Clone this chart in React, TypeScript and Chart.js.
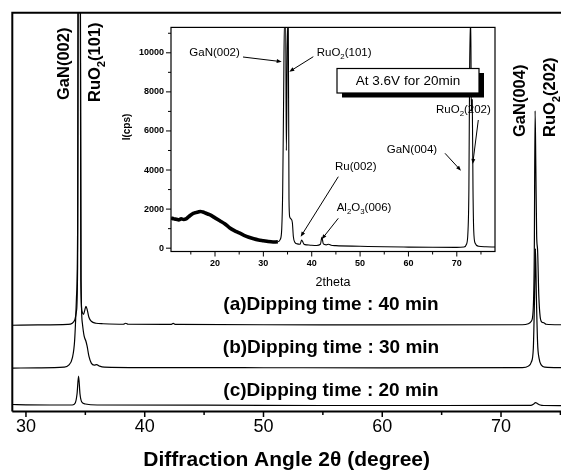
import React, { useEffect, useRef } from "react";
import { Chart, registerables } from "chart.js";

Chart.register(...registerables);

const FONT = "'Liberation Sans', Arial, Helvetica, sans-serif";
Chart.defaults.font.family = FONT;
Chart.defaults.color = "#000";

// ---------------- main panel ----------------
const mainXMin = 28.85;
const mainXMax = 75.05;
const mainMajorTicks = [30, 40, 50, 60, 70];
const mainMinorTicks = [35, 45, 55, 65, 75];
const mainXTitle = "Diffraction Angle 2θ (degree)";

const seriesNames = [
  "(a)Dipping time : 40 min",
  "(b)Dipping time : 30 min",
  "(c)Dipping time : 20 min",
];
// vertical stacking offsets (arbitrary intensity units)
const seriesOffsets = [86.5, 43.5, 5.5];

// (a) 40 min
const angles40 = [28.85, 31, 33.5, 33.9, 34.1, 34.25, 34.35, 34.42, 34.55, 34.62, 34.72, 34.85, 34.95, 35.05, 35.15, 35.3, 35.5, 35.9, 36.5, 38.2, 38.4, 38.6, 42.2, 42.4, 42.6, 50, 60, 71.8, 72.3, 72.55, 72.7, 72.8, 72.87, 72.93, 73.0, 73.08, 73.18, 73.3, 73.45, 73.6, 73.8, 75.05];
const counts40 = [0, 0.3, 0.8, 2, 5, 14, 60, 500, 500, 45, 14, 11, 15, 19, 16, 8, 4, 2, 1.5, 1, 2, 1, 0.8, 1.8, 0.8, 0.5, 0.3, 0.5, 1.5, 4, 14, 70, 215, 160, 90, 75, 30, 8, 3, 2.5, 1, 0.5];

// (b) 30 min
const angles30 = [28.85, 31, 33.2, 33.6, 33.9, 34.1, 34.25, 34.35, 34.42, 34.56, 34.64, 34.75, 34.9, 35.05, 35.15, 35.3, 35.5, 35.75, 35.95, 36.2, 36.6, 40, 50, 60, 71.8, 72.3, 72.55, 72.72, 72.82, 72.9, 72.98, 73.08, 73.2, 73.4, 73.7, 75.05];
const counts30 = [0, 0.3, 1, 3, 10, 28, 70, 140, 500, 500, 90, 45, 32, 27, 22, 12, 5, 3, 3.5, 2, 1, 0.5, 0.4, 0.3, 0.5, 2, 6, 20, 70, 120, 70, 25, 10, 3, 1, 0.5];

// (c) 20 min
const angles20 = [28.85, 30, 32, 33.9, 34.15, 34.3, 34.43, 34.55, 34.7, 35, 36, 45, 55, 65, 72.5, 72.75, 72.9, 73.05, 73.3, 73.6, 75.05];
const counts20 = [1.5, 1.2, 1, 1, 3, 12, 30, 12, 4, 2, 1, 0.8, 0.5, 0.5, 0.6, 2, 3.5, 2.5, 1, 0.5, 0.4];

const peakLabels = ["GaN(002)", "RuO_2(101)", "GaN(004)", "RuO_2(202)"];

// ---------------- inset ----------------
const insetXMin = 10.9;
const insetXMax = 77.9;
const insetYMin = -170;
const insetYMax = 11300;
const insetXTicks = [20, 30, 40, 50, 60, 70];
const insetXMinor = [15, 25, 35, 45, 55, 65, 75];
const insetYTicks = [0, 2000, 4000, 6000, 8000, 10000];
const insetYMinor = [1000, 3000, 5000, 7000, 9000, 11000];
const insetXTitle = "2theta";
const insetYTitle = "I(cps)";
const insetBoxText = "At 3.6V for 20min";
const insetNotes = ["GaN(002)", "RuO_2(101)", "Ru(002)", "Al_2O_3(006)", "GaN(004)", "RuO_2(202)"];

const insetAngles = [10.9, 11.5, 12, 12.5, 13, 13.5, 14, 14.5, 15, 15.5, 16, 16.5, 17, 17.5, 18, 18.5, 19, 20, 21, 22, 23, 24, 25, 26, 27, 28, 29, 30, 31, 32, 33, 33.5, 33.8, 34.0, 34.2, 34.35, 34.5, 34.62, 34.75, 34.88, 35.0, 35.15, 35.3, 35.45, 35.7, 36.0, 36.2, 36.5, 37, 37.6, 37.9, 38.1, 38.4, 39, 40, 41, 41.8, 42.1, 42.4, 43, 43.5, 44, 45, 50, 55, 60, 65, 70, 71.5, 72.0, 72.3, 72.5, 72.65, 72.8, 72.9, 73.0, 73.1, 73.2, 73.35, 73.5, 73.8, 74.5, 76, 77.9];
const insetCounts = [1550, 1500, 1480, 1450, 1500, 1470, 1500, 1600, 1700, 1780, 1820, 1850, 1880, 1850, 1800, 1750, 1700, 1550, 1400, 1250, 1050, 900, 780, 660, 560, 480, 420, 380, 340, 320, 330, 450, 1000, 3000, 8000, 11500, 11500, 11500, 5000, 8000, 11500, 11500, 2500, 1600, 1500, 1300, 600, 300, 220, 200, 420, 350, 200, 170, 150, 140, 200, 560, 220, 170, 200, 150, 130, 100, 70, 55, 45, 40, 60, 200, 800, 3000, 9000, 11500, 11500, 7000, 7600, 7600, 3000, 900, 250, 100, 70, 60];

// ---------------- helpers ----------------
const INSET_LEFT = 110;
const INSET_TOP = 15;

function toPoints(xs: number[], ys: number[], offset = 0) {
  return xs.map((x, i) => ({ x, y: ys[i] + offset }));
}

type Part = { t: string; sub: boolean };
function parseRich(s: string): Part[] {
  const parts: Part[] = [];
  let buf = "";
  for (let i = 0; i < s.length; i++) {
    if (s[i] === "_" && i + 1 < s.length) {
      if (buf) parts.push({ t: buf, sub: false });
      buf = "";
      parts.push({ t: s[i + 1], sub: true });
      i++;
    } else buf += s[i];
  }
  if (buf) parts.push({ t: buf, sub: false });
  return parts;
}

function drawRich(
  ctx: CanvasRenderingContext2D,
  s: string,
  x: number,
  y: number,
  size: number,
  bold: boolean,
  align: "left" | "center",
  rotate: boolean,
  baseline: CanvasTextBaseline = "alphabetic"
) {
  const parts = parseRich(s);
  const subSize = size * 0.68;
  const setFont = (p: Part) => {
    ctx.font = `${bold ? "bold " : ""}${p.sub ? subSize : size}px ${FONT}`;
  };
  let total = 0;
  for (const p of parts) {
    setFont(p);
    total += ctx.measureText(p.t).width;
  }
  ctx.save();
  ctx.translate(x, y);
  if (rotate) ctx.rotate(-Math.PI / 2);
  ctx.textAlign = "left";
  ctx.textBaseline = baseline;
  ctx.fillStyle = "#000";
  let cx = align === "center" ? -total / 2 : 0;
  for (const p of parts) {
    setFont(p);
    ctx.fillText(p.t, cx, p.sub ? size * 0.3 : 0);
    cx += ctx.measureText(p.t).width;
  }
  ctx.restore();
}

function arrow(ctx: CanvasRenderingContext2D, x1: number, y1: number, x2: number, y2: number) {
  const ang = Math.atan2(y2 - y1, x2 - x1);
  const hl = 5;
  const hw = 2;
  ctx.save();
  ctx.strokeStyle = "#000";
  ctx.fillStyle = "#000";
  ctx.lineWidth = 1;
  ctx.beginPath();
  ctx.moveTo(x1, y1);
  ctx.lineTo(x2 - Math.cos(ang) * hl * 0.8, y2 - Math.sin(ang) * hl * 0.8);
  ctx.stroke();
  ctx.beginPath();
  ctx.moveTo(x2, y2);
  ctx.lineTo(x2 - Math.cos(ang) * hl - Math.sin(ang) * hw, y2 - Math.sin(ang) * hl + Math.cos(ang) * hw);
  ctx.lineTo(x2 - Math.cos(ang) * hl + Math.sin(ang) * hw, y2 - Math.sin(ang) * hl - Math.cos(ang) * hw);
  ctx.closePath();
  ctx.fill();
  ctx.restore();
}

const mainDecor = {
  id: "mainDecor",
  afterDraw(chart: any) {
    const { ctx, chartArea } = chart;
    const { left, top, right, bottom } = chartArea;
    const xs = chart.scales.x;
    ctx.save();
    ctx.strokeStyle = "#000";
    ctx.lineWidth = 2;
    ctx.beginPath();
    ctx.moveTo(left, bottom);
    ctx.lineTo(left, top);
    ctx.lineTo(right, top);
    ctx.moveTo(left, bottom);
    ctx.lineTo(right, bottom);
    ctx.stroke();
    ctx.lineWidth = 1.5;
    ctx.beginPath();
    for (const v of mainMajorTicks) {
      const px = xs.getPixelForValue(v);
      ctx.moveTo(px, bottom);
      ctx.lineTo(px, bottom + 5.5);
    }
    for (const v of mainMinorTicks) {
      if (v > mainXMax) continue;
      const px = xs.getPixelForValue(v);
      ctx.moveTo(px, bottom);
      ctx.lineTo(px, bottom + 3.5);
    }
    ctx.stroke();
    ctx.restore();

    // rotated peak labels
    drawRich(ctx, peakLabels[0], 68.5, 100, 16.5, true, "left", true);
    drawRich(ctx, peakLabels[1], 100, 102, 16.5, true, "left", true);
    drawRich(ctx, peakLabels[2], 525, 137, 16.5, true, "left", true);
    drawRich(ctx, peakLabels[3], 555, 137, 16.5, true, "left", true);

    // series names
    const ys = [305, 348, 391];
    seriesNames.forEach((n, i) => drawRich(ctx, n, 331, ys[i], 19, true, "center", false, "middle"));
  },
};

const insetDecor = {
  id: "insetDecor",
  afterDraw(chart: any) {
    const { ctx, chartArea } = chart;
    const { left, top, right, bottom } = chartArea;
    const xs = chart.scales.x;
    const ys = chart.scales.y;
    const P = (x: number, y: number): [number, number] => [x - INSET_LEFT, y - INSET_TOP];
    ctx.save();
    ctx.strokeStyle = "#000";
    ctx.lineWidth = 1.2;
    ctx.strokeRect(left, top, right - left, bottom - top);
    ctx.lineWidth = 1;
    ctx.beginPath();
    for (const v of insetXTicks) {
      const px = xs.getPixelForValue(v);
      ctx.moveTo(px, bottom);
      ctx.lineTo(px, bottom + 5);
    }
    for (const v of insetXMinor) {
      if (v > insetXMax) continue;
      const px = xs.getPixelForValue(v);
      ctx.moveTo(px, bottom);
      ctx.lineTo(px, bottom + 3);
    }
    for (const v of insetYTicks) {
      const py = ys.getPixelForValue(v);
      ctx.moveTo(left, py);
      ctx.lineTo(left - 5, py);
    }
    for (const v of insetYMinor) {
      if (v > insetYMax) continue;
      const py = ys.getPixelForValue(v);
      ctx.moveTo(left, py);
      ctx.lineTo(left - 3, py);
    }
    ctx.stroke();

    // y title
    const [tx, ty] = P(127, 127);
    drawRich(ctx, insetYTitle, tx, ty, 10, true, "center", true, "middle");

    // box with shadow
    const [bx, by] = P(337, 68.5);
    ctx.fillStyle = "#000";
    ctx.fillRect(bx + 5, by + 4.5, 142, 24.5);
    ctx.fillStyle = "#fff";
    ctx.fillRect(bx, by, 142, 24.5);
    ctx.strokeStyle = "#000";
    ctx.lineWidth = 1.2;
    ctx.strokeRect(bx, by, 142, 24.5);
    drawRich(ctx, insetBoxText, bx + 71, by + 12.5, 13.5, false, "center", false, "middle");

    // notes + arrows
    const notePos: [number, number][] = [
      [189.3, 53.3],
      [316.7, 53.3],
      [335, 166.7],
      [336.7, 208.3],
      [386.7, 150],
      [436, 110],
    ];
    const arrows: [number, number, number, number][] = [
      [243, 57, 281.7, 61.7],
      [313.3, 56.7, 289.3, 71.7],
      [338.3, 176.7, 300.7, 236.7],
      [338.3, 218.3, 321.7, 239.3],
      [445, 153.3, 461, 170.7],
      [478.3, 120, 472.7, 164],
    ];
    insetNotes.forEach((n, i) => {
      const [nx, ny] = P(notePos[i][0], notePos[i][1]);
      drawRich(ctx, n, nx, ny, 11.5, false, "left", false, "middle");
      const a = arrows[i];
      const [x1, y1] = P(a[0], a[1]);
      const [x2, y2] = P(a[2], a[3]);
      arrow(ctx, x1, y1, x2, y2);
    });
    ctx.restore();
  },
};

export default function App() {
  const mainRef = useRef<HTMLCanvasElement>(null);
  const insetRef = useRef<HTMLCanvasElement>(null);

  useEffect(() => {
    const lineDs = (data: { x: number; y: number }[]) => ({
      data,
      borderColor: "#000",
      borderWidth: 1.2,
      pointRadius: 0,
      fill: false,
      cubicInterpolationMode: "monotone" as const,
    });

    const main = new Chart(mainRef.current!, {
      type: "line",
      data: {
        datasets: [
          lineDs(toPoints(angles40, counts40, seriesOffsets[0])),
          lineDs(toPoints(angles30, counts30, seriesOffsets[1])),
          lineDs(toPoints(angles20, counts20, seriesOffsets[2])),
        ],
      },
      options: {
        responsive: false,
        animation: false,
        events: [],
        layout: { padding: { left: 12.3, top: 12.7, right: 0, bottom: 0 } },
        plugins: { legend: { display: false }, tooltip: { enabled: false } },
        scales: {
          x: {
            type: "linear",
            min: mainXMin,
            max: mainXMax,
            afterBuildTicks: (s: any) => {
              s.ticks = mainMajorTicks.map((v) => ({ value: v }));
            },
            afterFit: (s: any) => {
              s.height = 61.5;
            },
            grid: { display: false, drawTicks: false },
            border: { display: false },
            ticks: {
              color: "#000",
              font: { size: 18, family: FONT },
              padding: 5,
              maxRotation: 0,
              autoSkip: false,
              callback: (v: any) => String(v),
            },
            title: {
              display: true,
              text: mainXTitle,
              color: "#000",
              font: { size: 21, weight: "bold", family: FONT },
              padding: { top: 0, bottom: 0 },
            },
          },
          y: { type: "linear", display: false, min: 0, max: 400 },
        },
      },
      plugins: [mainDecor],
    } as any);

    const inset = new Chart(insetRef.current!, {
      type: "line",
      data: {
        datasets: [
          {
            ...lineDs(toPoints(insetAngles, insetCounts)),
            borderWidth: 1.1,
            segment: {
              borderWidth: (c: any) => (c.p0.parsed.x < 32.5 ? 3.6 : 1.1),
            },
          },
        ],
      },
      options: {
        responsive: false,
        animation: false,
        events: [],
        layout: { padding: { left: 0, top: 7, right: 10, bottom: 0 } },
        plugins: { legend: { display: false }, tooltip: { enabled: false } },
        scales: {
          x: {
            type: "linear",
            min: insetXMin,
            max: insetXMax,
            afterBuildTicks: (s: any) => {
              s.ticks = insetXTicks.map((v) => ({ value: v }));
            },
            afterFit: (s: any) => {
              s.height = 48.5;
            },
            grid: { display: false, drawTicks: false },
            border: { display: false },
            ticks: {
              color: "#000",
              font: { size: 9, weight: "bold", family: FONT },
              padding: 7,
              maxRotation: 0,
              autoSkip: false,
              callback: (v: any) => String(v),
            },
            title: {
              display: true,
              text: insetXTitle,
              color: "#000",
              font: { size: 12.5, family: FONT },
              padding: { top: 0, bottom: 9.5 },
            },
          },
          y: {
            type: "linear",
            min: insetYMin,
            max: insetYMax,
            afterBuildTicks: (s: any) => {
              s.ticks = insetYTicks.map((v) => ({ value: v }));
            },
            afterFit: (s: any) => {
              s.width = 61;
            },
            grid: { display: false, drawTicks: false },
            border: { display: false },
            ticks: {
              color: "#000",
              font: { size: 9, weight: "bold", family: FONT },
              padding: 7,
              autoSkip: false,
              callback: (v: any) => String(v),
            },
          },
        },
      },
      plugins: [insetDecor],
    } as any);

    return () => {
      main.destroy();
      inset.destroy();
    };
  }, []);

  return (
    <div
      style={{
        position: "fixed",
        left: 0,
        top: 0,
        width: 561,
        height: 473,
        background: "#fff",
        overflow: "hidden",
      }}
    >
      <canvas
        ref={mainRef}
        width={561}
        height={473}
        style={{ position: "absolute", left: 0, top: 0, width: 561, height: 473 }}
      />
      <canvas
        ref={insetRef}
        width={395}
        height={285}
        style={{ position: "absolute", left: INSET_LEFT, top: INSET_TOP, width: 395, height: 285 }}
      />
    </div>
  );
}
